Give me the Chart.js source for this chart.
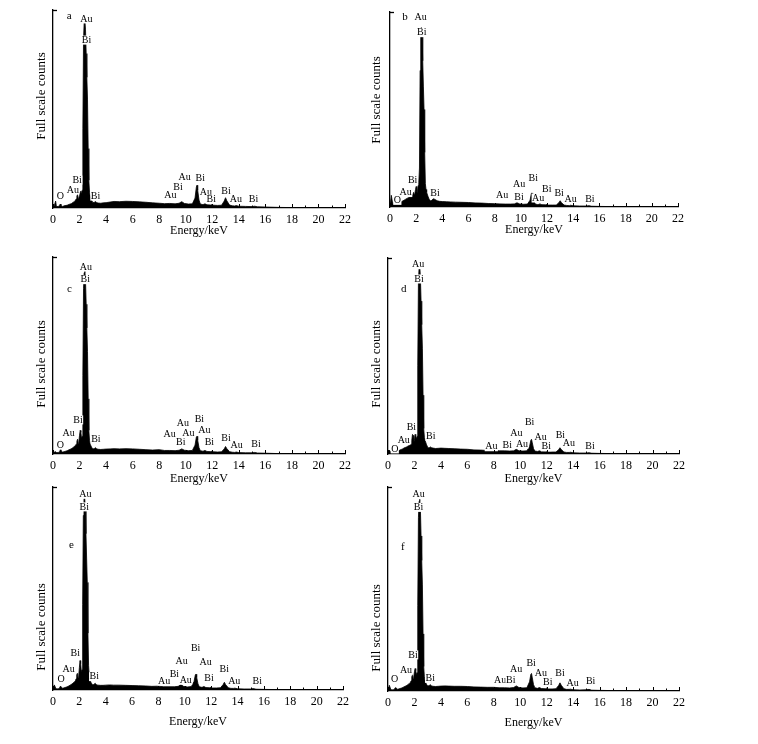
<!DOCTYPE html>
<html><head><meta charset="utf-8">
<script src="https://cdn.jsdelivr.net/npm/chart.js@4/dist/chart.umd.min.js"></script>
<style>
html,body{margin:0;padding:0;background:#fff;}
body{width:758px;height:744px;position:relative;overflow:hidden;}
canvas{position:absolute;}
</style></head><body>
<script>
// ---- shared energy grid (keV) ----
const energy = [
 0, 0.1, 0.2, 0.25, 0.3, 0.4, 0.5, 0.55, 0.6, 0.7,
 0.8, 0.9, 1.0, 1.1, 1.2, 1.3, 1.4, 1.5, 1.6, 1.7,
 1.75, 1.8, 1.85, 1.9, 1.95, 2.0, 2.05, 2.1, 2.15, 2.2,
 2.25, 2.3, 2.35, 2.4, 2.45, 2.5, 2.55, 2.6, 2.65, 2.7,
 2.75, 2.8, 2.9, 3.0, 3.1, 3.2, 3.3, 3.4, 3.6, 3.8,
 4.0, 4.3, 4.6, 5.0, 5.5, 6.0, 6.5, 7.0, 7.5, 8.0,
 8.4, 8.8, 9.2, 9.5, 9.7, 9.9, 10.2, 10.5, 10.7, 10.8,
 10.85, 10.9, 11.0, 11.1, 11.3, 11.45, 11.6, 11.9, 12.0, 12.1,
 12.4, 12.7, 12.9, 13.0, 13.1, 13.3, 13.5, 13.7, 13.8, 14.0,
 14.5, 15.0, 15.2, 15.4, 16.0, 17.0, 18.0, 19.0, 20.0, 21.0,
 22.0
];

// ---- counts (% of full scale) ----
const countsA = [
 0, 1.2, 3.5, 1.0, 0.6, 0.8, 1.4, 2.0, 1.2, 0.8,
 1.0, 1.2, 1.3, 1.5, 1.8, 2.0, 2.3, 2.8, 3.2, 4.0,
 4.6, 6.0, 6.8, 4.8, 5.2, 6.2, 8.0, 8.6, 7, 9,
 40, 85, 94, 95, 90, 78, 66, 55, 30, 14,
 8, 6, 4, 2.8, 2.8, 3.3, 2.7, 2.5, 2.4, 2.6,
 2.7, 3.0, 3.3, 3.2, 3.4, 3.3, 3.1, 2.9, 2.6, 2.4,
 2.2, 2.3, 2.1, 2.4, 3.2, 2.3, 2.0, 2.1, 5.0, 10.5,
 11.5, 9.0, 4.0, 2.0, 1.7, 2.1, 1.6, 1.5, 1.8, 1.4,
 1.3, 1.4, 3.5, 5.2, 3.6, 1.5, 1.1, 1.0, 1.2, 0.9,
 0.8, 0.7, 0.9, 0.6, 0.5, 0.3, 0.2, 0.1, 0.05, 0,
 0
];
const countsB = [
 0, 6, 2, 1.5, 2.5, 3.2, 2.5, 1.8, 1.2, 1.5,
 2.2, 2.8, 3.2, 3.6, 4.0, 4.4, 4.8, 5.2, 5.6, 6.0,
 6.5, 7.5, 6.5, 7.0, 9.0, 10.5, 8.0, 7.5, 11, 12.5,
 20, 70, 90, 92, 88, 75, 62, 50, 28, 12,
 9, 7.5, 5.5, 3.8, 3.2, 3.4, 4.2, 4.0, 3.2, 2.9,
 2.8, 2.7, 2.6, 2.5, 2.4, 2.3, 2.1, 2.0, 1.8, 1.7,
 1.6, 1.5, 1.5, 1.6, 2.2, 1.6, 1.4, 1.5, 3.5, 7.0,
 7.2, 5.5, 2.8, 1.5, 1.2, 1.6, 1.2, 1.1, 1.3, 1.0,
 1.0, 1.0, 2.2, 3.2, 2.2, 1.0, 0.8, 0.7, 0.9, 0.6,
 0.5, 0.5, 0.7, 0.4, 0.3, 0.2, 0.1, 0.05, 0, 0,
 0
];
const countsC = [
 0, 1, 1.2, 0.8, 0.6, 0.8, 1.0, 2.2, 1.5, 1.0,
 1.1, 1.3, 1.5, 1.8, 2.1, 2.4, 2.8, 3.2, 3.8, 4.4,
 5.0, 6.5, 7.5, 5.5, 6.5, 9.5, 12, 11, 8, 9,
 40, 84, 92, 93, 88, 76, 64, 52, 28, 12,
 7, 5, 3.5, 2.6, 2.7, 3.2, 2.6, 2.4, 2.3, 2.4,
 2.5, 2.6, 2.7, 2.6, 2.7, 2.6, 2.4, 2.2, 2.0, 2.2,
 1.8, 1.8, 1.7, 1.9, 2.6, 1.9, 1.7, 1.8, 4.5, 8.5,
 9.0, 7.0, 3.2, 1.7, 1.4, 1.8, 1.3, 1.2, 1.5, 1.1,
 1.0, 1.1, 2.6, 3.8, 2.7, 1.2, 0.9, 0.8, 1.0, 0.7,
 0.6, 0.6, 0.8, 0.5, 0.4, 0.2, 0.15, 0.1, 0, 0,
 0
];
const countsD = [
 0, 2, 1, 0.8, 0.8, 1.0, 1.2, 1.0, 0.9, 1.2,
 1.6, 2.0, 2.3, 2.6, 3.0, 3.3, 3.6, 4.0, 4.3, 4.6,
 5.0, 7.0, 10, 9.5, 6, 7, 10, 9.5, 7.5, 9,
 45, 88, 95, 96, 90, 78, 66, 54, 30, 13,
 8.5, 7, 5, 3.4, 3.0, 3.6, 3.2, 3.0, 2.8, 2.9,
 3.0, 2.9, 2.8, 2.7, 2.5, 2.4, 2.1, 2.0, 1.8, 1.9,
 1.6, 1.6, 1.5, 1.6, 2.4, 1.6, 1.5, 1.6, 3.8, 7.0,
 7.5, 6.0, 2.8, 1.5, 1.3, 1.6, 1.2, 1.1, 1.4, 1.0,
 1.0, 1.0, 2.2, 3.2, 2.3, 1.0, 0.8, 0.8, 0.9, 0.6,
 0.5, 0.5, 0.7, 0.4, 0.3, 0.2, 0.1, 0.05, 0, 0,
 0
];
const countsE = [
 0, 2.5, 1.0, 0.6, 0.5, 0.6, 1.0, 1.8, 1.6, 0.9,
 1.0, 1.2, 1.4, 1.7, 2.0, 2.4, 2.8, 3.3, 3.8, 4.5,
 5.5, 7.5, 8.2, 6.0, 7.0, 11, 14.5, 13, 9, 10,
 42, 86, 94, 95, 90, 77, 65, 53, 28, 12,
 7, 5, 3.5, 2.6, 2.7, 3.3, 2.6, 2.4, 2.3, 2.3,
 2.4, 2.5, 2.4, 2.4, 2.3, 2.2, 2.1, 2.0, 1.8, 1.9,
 1.6, 1.6, 1.6, 1.8, 2.7, 1.8, 1.5, 1.7, 4.2, 7.5,
 7.8, 6.2, 3.0, 1.6, 1.3, 1.7, 1.2, 1.1, 1.4, 1.0,
 1.0, 1.1, 2.6, 3.8, 2.6, 1.1, 0.8, 0.8, 0.9, 0.6,
 0.5, 0.5, 0.7, 0.4, 0.3, 0.2, 0.1, 0.05, 0, 0,
 0
];
const countsF = [
 0, 2.8, 1.0, 0.6, 0.5, 0.6, 1.0, 1.6, 1.5, 0.9,
 1.0, 1.2, 1.4, 1.7, 2.0, 2.3, 2.7, 3.1, 3.6, 4.3,
 5.0, 7.0, 8.0, 6.0, 7.0, 9.5, 11, 10, 8, 9,
 42, 85, 93, 94, 89, 76, 64, 52, 28, 12,
 7, 5, 3.4, 2.5, 2.6, 3.1, 2.5, 2.3, 2.2, 2.3,
 2.4, 2.5, 2.4, 2.3, 2.3, 2.2, 2.0, 1.9, 1.8, 1.8,
 1.6, 1.6, 1.5, 1.7, 2.5, 1.7, 1.5, 1.6, 4.5, 8.2,
 8.6, 6.8, 3.2, 1.6, 1.3, 1.7, 1.2, 1.1, 1.4, 1.0,
 1.0, 1.1, 2.7, 4.0, 2.8, 1.1, 0.8, 0.8, 0.9, 0.6,
 0.5, 0.6, 0.8, 0.4, 0.3, 0.2, 0.1, 0.05, 0, 0,
 0
];

// ---- peak labels: text, energy (keV), height (% full scale) ----
const labelTextA   = ["a","Au","Bi","Bi","Au","O","Bi","Au","Bi","Au","Bi","Au","Bi","Bi","Au","Bi"];
const labelEnergyA = [1.22,2.52,2.52,1.82,1.49,0.56,3.2,8.84,9.42,9.92,11.1,11.52,11.93,13.03,13.78,15.11];
const labelHeightA = [97,95.5,84.8,14.1,9.1,5.7,6,6.4,10.4,15.5,15,7.9,4.5,8.6,4.4,4.4];

const labelTextB   = ["b","Au","Bi","Bi","Au","O","Bi","Au","Au","Bi","Bi","Au","Bi","Bi","Au","Bi"];
const labelEnergyB = [1.15,2.34,2.42,1.73,1.2,0.56,3.44,8.57,9.87,9.85,10.94,11.32,11.98,12.92,13.79,15.27];
const labelHeightB = [97.4,97.4,89.4,13.7,7.4,3.4,7.2,6,11.5,4.8,14.6,4.6,8.9,7.2,3.9,3.9];

const labelTextC   = ["c","Au","Bi","Bi","Au","O","Bi","Au","Bi","Au","Au","Bi","Au","Bi","Bi","Au","Bi"];
const labelEnergyC = [1.23,2.48,2.43,1.88,1.17,0.55,3.23,8.78,9.63,9.78,10.2,11.03,11.41,11.78,13.04,13.84,15.3];
const labelHeightC = [83.9,94.9,88.5,17.3,10.5,4.6,7.6,10.2,5.9,15.6,10.3,17.4,11.8,5.9,7.8,4.4,4.9];

const labelTextD   = ["d","Au","Bi","Bi","Au","O","Bi","Au","Bi","Au","Au","Bi","Au","Bi","Bi","Au","Bi"];
const labelEnergyD = [1.19,2.27,2.34,1.77,1.19,0.51,3.23,7.81,9.02,9.7,10.13,10.71,11.54,11.97,13.03,13.68,15.27];
const labelHeightD = [84.2,96.6,89.3,13.4,7.2,2.6,8.9,3.7,4.4,10.7,5.1,16,8.3,3.7,9.6,5.5,4.1];

const labelTextE   = ["e","Au","Bi","Bi","Au","O","Bi","Au","Bi","Au","Au","Bi","Au","Bi","Bi","Au","Bi"];
const labelEnergyE = [1.39,2.45,2.37,1.69,1.18,0.61,3.13,8.43,9.21,9.76,10.07,10.82,11.58,11.83,12.99,13.75,15.49];
const labelHeightE = [71.3,96.4,90.2,18,10.3,5.4,6.6,4.4,7.9,14.3,4.8,20.5,13.6,5.7,10.2,4.4,4.1];

const labelTextF   = ["f","Au","Bi","Bi","Au","O","Bi","Au","Bi","Au","Bi","Au","Bi","Bi","Au","Bi"];
const labelEnergyF = [1.13,2.31,2.31,1.89,1.36,0.5,3.19,8.48,9.28,9.68,10.82,11.55,12.08,13.01,13.96,15.32];
const labelHeightF = [70.5,96.3,90,17.7,9.9,5.8,6.2,5.4,5.4,10.6,13.6,8.8,4.2,8.6,3.7,4.7];

// ---- axis ticks & titles ----
const xTickLabels = [0,2,4,6,8,10,12,14,16,18,20,22];
const xMinorTicks = [0,1,2,3,4,5,6,7,8,9,10,11,12,13,14,15,16,17,18,19,20,21,22];
const xAxisTitle = "Energy/keV";
const yAxisTitle = "Full scale counts";

// ---- layout (page pixels) ----
const panels = [
 {counts:countsA, lt:labelTextA, lx:labelEnergyA, ly:labelHeightA, L:53, T:10,  R:345, B:208, xh:31, ty:[42,96]},
 {counts:countsB, lt:labelTextB, lx:labelEnergyB, ly:labelHeightB, L:390,T:12,  R:678, B:207, xh:31, ty:[377,100]},
 {counts:countsC, lt:labelTextC, lx:labelEnergyC, ly:labelHeightC, L:53, T:257, R:345, B:454, xh:33, ty:[42,364]},
 {counts:countsD, lt:labelTextD, lx:labelEnergyD, ly:labelHeightD, L:388,T:258, R:679, B:454, xh:33, ty:[377,364]},
 {counts:countsE, lt:labelTextE, lx:labelEnergyE, ly:labelHeightE, L:53, T:487, R:343, B:690, xh:40, ty:[42,627]},
 {counts:countsF, lt:labelTextF, lx:labelEnergyF, ly:labelHeightF, L:388,T:487, R:679, B:691, xh:40, ty:[377,628]}
];

const YW = 40, PT = 8, PR = 12;
const FONT = '"Liberation Serif", "Times New Roman", serif';

function makeDecor(p){
  return {
    id:'decor',
    afterDatasetsDraw(chart){
      const ctx = chart.ctx, xs = chart.scales.x, ys = chart.scales.y;
      ctx.save();
      ctx.textAlign = 'center'; ctx.textBaseline = 'middle';
      p.lt.forEach((t,i)=>{
        const px = xs.getPixelForValue(p.lx[i]);
        const py = ys.getPixelForValue(p.ly[i]);
        const letter = (i === 0);
        ctx.font = (letter ? '11px ' : '10px ') + FONT;
        const w = ctx.measureText(t).width;
        ctx.fillStyle = '#fff';
        ctx.fillRect(px - w/2 - 0.5, py - 4.5, w + 1, 9);
        ctx.fillStyle = '#000';
        ctx.fillText(t, px, py);
      });
      ctx.restore();
    },
    afterDraw(chart){
      const ctx = chart.ctx, xs = chart.scales.x, ca = chart.chartArea;
      ctx.save();
      ctx.strokeStyle = '#000'; ctx.lineWidth = 1;
      xMinorTicks.forEach(v=>{
        const px = Math.round(xs.getPixelForValue(v)) + 0.5;
        const len = (v % 2 === 0) ? 4 : 2.5;
        ctx.beginPath(); ctx.moveTo(px, ca.bottom); ctx.lineTo(px, ca.bottom - len); ctx.stroke();
      });
      ctx.lineWidth = 1.3;
      ctx.beginPath(); ctx.moveTo(ca.left, ca.top + 0.5); ctx.lineTo(ca.left + 4, ca.top + 0.5); ctx.stroke();
      // rotated y title
      ctx.translate(p.ty[0] - p.cl, p.ty[1] - p.ct);
      ctx.rotate(-Math.PI/2);
      ctx.fillStyle = '#000';
      ctx.font = '13px ' + FONT;
      ctx.textAlign = 'center'; ctx.textBaseline = 'middle';
      ctx.fillText(yAxisTitle, 0, 0);
      ctx.restore();
    }
  };
}

panels.forEach(p=>{
  p.cl = p.L - YW; p.ct = p.T - PT;
  const cw = p.R + PR - p.cl, ch = p.B + p.xh - p.ct;
  const cv = document.createElement('canvas');
  cv.width = cw; cv.height = ch;
  cv.style.left = p.cl + 'px'; cv.style.top = p.ct + 'px';
  cv.style.width = cw + 'px'; cv.style.height = ch + 'px';
  document.body.appendChild(cv);
  new Chart(cv, {
    type:'line',
    data:{ datasets:[{
      data: energy.map((e,i)=>({x:e, y:p.counts[i]})),
      borderColor:'#000', backgroundColor:'#000', borderWidth:0.8,
      pointRadius:0, fill:'origin', tension:0
    }]},
    options:{
      responsive:false, animation:false, devicePixelRatio:1,
      layout:{padding:{top:PT, right:PR, left:0, bottom:0}},
      plugins:{legend:{display:false}, tooltip:{enabled:false}},
      scales:{
        x:{type:'linear', min:0, max:22,
           afterBuildTicks: s => { s.ticks = xTickLabels.map(v=>({value:v})); },
           afterFit: s => { s.height = p.xh; },
           ticks:{color:'#000', font:{family:FONT, size:12}, padding:5, maxRotation:0, autoSkip:false},
           grid:{display:false, drawTicks:false},
           border:{display:true, color:'#000', width:1.3},
           title:{display:true, text:xAxisTitle, color:'#000', font:{family:FONT, size:12}, padding:{top:0, bottom:1}}
        },
        y:{min:0, max:100,
           afterFit: s => { s.width = YW; },
           ticks:{display:false},
           grid:{display:false, drawTicks:false},
           border:{display:true, color:'#000', width:1.3}
        }
      }
    },
    plugins:[makeDecor(p)]
  });
});
</script>
</body></html>
